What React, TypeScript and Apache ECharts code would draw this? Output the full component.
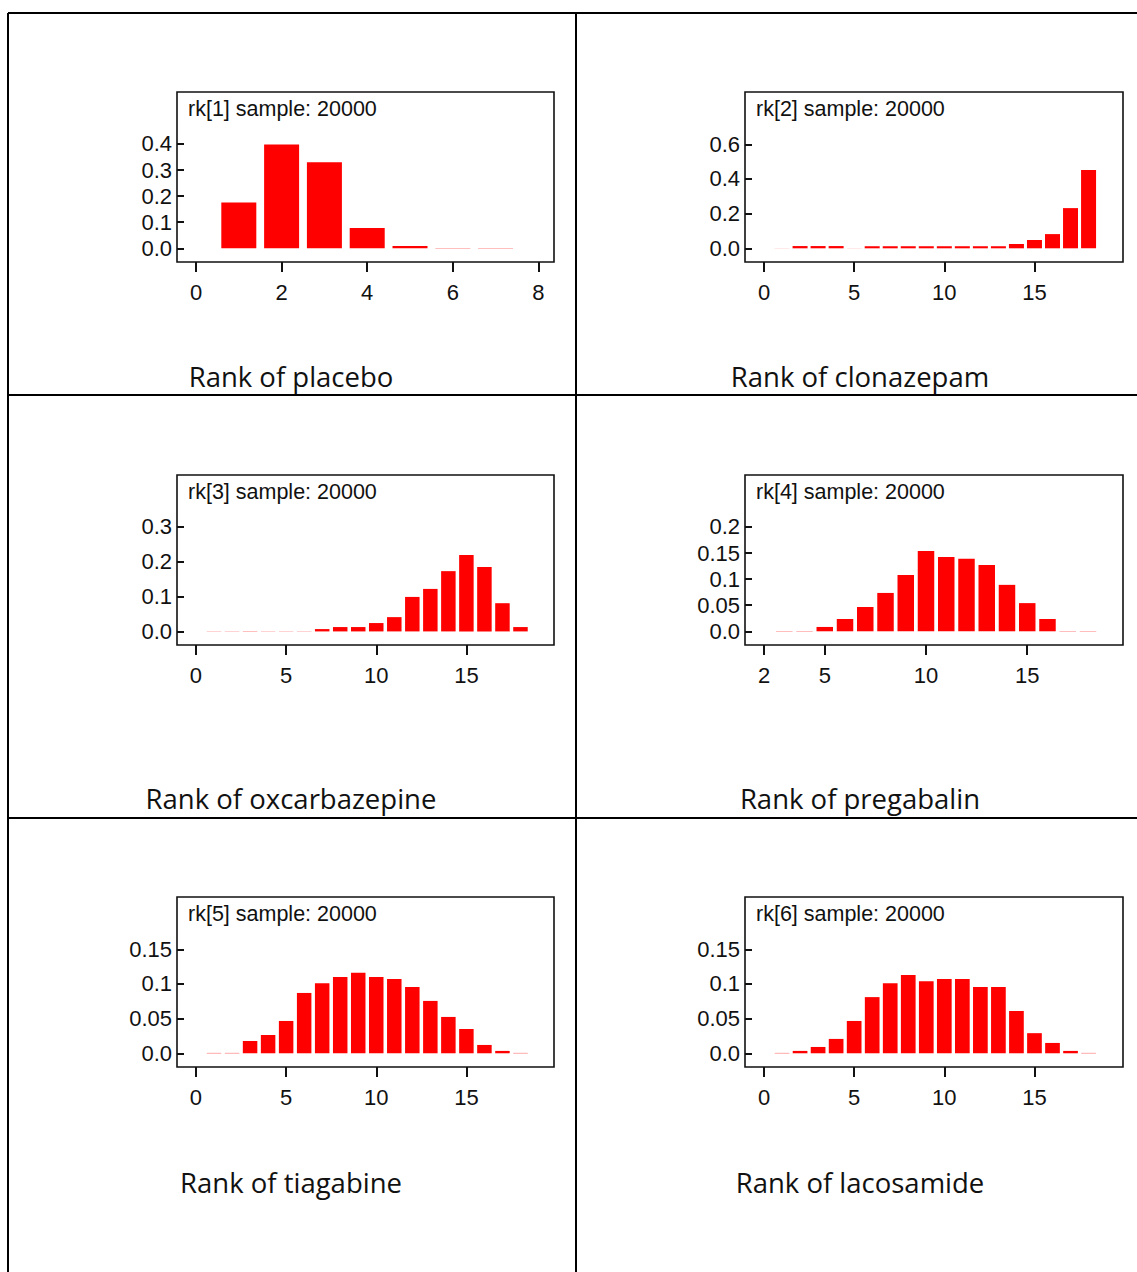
import React, { useEffect, useRef } from 'react';
import * as echarts from 'echarts';

// ---- data ----
const panelTitles = [
  'rk[1] sample: 20000',
  'rk[2] sample: 20000',
  'rk[3] sample: 20000',
  'rk[4] sample: 20000',
  'rk[5] sample: 20000',
  'rk[6] sample: 20000',
];
const captions = [
  'Rank of placebo',
  'Rank of clonazepam',
  'Rank of oxcarbazepine',
  'Rank of pregabalin',
  'Rank of tiagabine',
  'Rank of lacosamide',
];

const ranks1 = [1, 2, 3, 4, 5, 6, 7];
const probs1 = [0.176, 0.398, 0.33, 0.078, 0.009, 0.001, 0.001];

const ranks2 = [1, 2, 3, 4, 5, 6, 7, 8, 9, 10, 11, 12, 13, 14, 15, 16, 17, 18];
const probs2 = [0.0005, 0.013, 0.013, 0.013, 0.0005, 0.012, 0.012, 0.012, 0.012, 0.012, 0.012, 0.012, 0.012, 0.025, 0.048, 0.082, 0.232, 0.452];

const ranks3 = [1, 2, 3, 4, 5, 6, 7, 8, 9, 10, 11, 12, 13, 14, 15, 16, 17, 18];
const probs3 = [0.0005, 0.0005, 0.0005, 0.0005, 0.0005, 0.0005, 0.0067, 0.0125, 0.0125, 0.024, 0.041, 0.099, 0.122, 0.173, 0.219, 0.185, 0.081, 0.0125];

const ranks4 = [3, 4, 5, 6, 7, 8, 9, 10, 11, 12, 13, 14, 15, 16, 17, 18];
const probs4 = [0.0005, 0.0005, 0.0083, 0.0236, 0.0466, 0.0735, 0.108, 0.154, 0.1425, 0.139, 0.127, 0.089, 0.054, 0.0236, 0.0005, 0.0005];

const ranks5 = [1, 2, 3, 4, 5, 6, 7, 8, 9, 10, 11, 12, 13, 14, 15, 16, 17, 18];
const probs5 = [0.0005, 0.0005, 0.0178, 0.0264, 0.0466, 0.087, 0.101, 0.11, 0.116, 0.11, 0.107, 0.0957, 0.0755, 0.0524, 0.035, 0.012, 0.0034, 0.0005];

const ranks6 = [1, 2, 3, 4, 5, 6, 7, 8, 9, 10, 11, 12, 13, 14, 15, 16, 17, 18];
const probs6 = [0.0005, 0.0034, 0.0091, 0.0207, 0.0466, 0.081, 0.101, 0.113, 0.104, 0.107, 0.107, 0.0957, 0.0957, 0.061, 0.029, 0.0149, 0.0034, 0.0005];

const xTicksA = [0, 2, 4, 6, 8];
const xTicksB = [0, 5, 10, 15];
const xTicksC = [2, 5, 10, 15];

const yTicks1 = [0, 0.1, 0.2, 0.3, 0.4];
const yTicks2 = [0, 0.2, 0.4, 0.6];
const yTicks3 = [0, 0.1, 0.2, 0.3];
const yTicks4 = [0, 0.05, 0.1, 0.15, 0.2];
const yTicks5 = [0, 0.05, 0.1, 0.15];

// ---- layout (positions / styles) ----
const panels = [
  { ranks: ranks1, probs: probs1, xTicks: xTicksA, yTicks: yTicks1, xr: [-0.444, 8.364], yr: [-0.0525, 0.599], left: 177, top: 92, width: 377, barW: 35 },
  { ranks: ranks2, probs: probs2, xTicks: xTicksB, yTicks: yTicks2, xr: [-1.054, 19.91], yr: [-0.079, 0.902], left: 745, top: 92, width: 378, barW: 15 },
  { ranks: ranks3, probs: probs3, xTicks: xTicksB, yTicks: yTicks3, xr: [-1.054, 19.86], yr: [-0.039, 0.449], left: 177, top: 475, width: 377, barW: 14.5 },
  { ranks: ranks4, probs: probs4, xTicks: xTicksC, yTicks: yTicks4, xr: [1.06, 19.73], yr: [-0.0263, 0.2996], left: 745, top: 475, width: 378, barW: 16.5 },
  { ranks: ranks5, probs: probs5, xTicks: xTicksB, yTicks: yTicks5, xr: [-1.054, 19.86], yr: [-0.0198, 0.2254], left: 177, top: 897, width: 377, barW: 14.5 },
  { ranks: ranks6, probs: probs6, xTicks: xTicksB, yTicks: yTicks5, xr: [-1.054, 19.91], yr: [-0.0198, 0.2254], left: 745, top: 897, width: 378, barW: 14.7 },
];
const captionPos = [
  [291, 377], [860, 377], [291, 799], [860, 799], [291, 1183], [860, 1183],
];

const PLOT_FONT = '"Liberation Sans", Arial, sans-serif';
const CAPTION_FONT = '"Open Sans", sans-serif';
const INK = '#111111';

function fmtY(v: number) {
  if (Math.abs(v) < 1e-9) return '0.0';
  return String(+v.toFixed(3));
}

export default function App() {
  const ref = useRef<HTMLDivElement>(null);
  useEffect(() => {
    document.body.style.margin = '0';
    const chart = echarts.init(ref.current!, undefined, { renderer: 'svg' });
    const grid: any[] = [];
    const xAxis: any[] = [];
    const yAxis: any[] = [];
    const series: any[] = [];
    const graphic: any[] = [];

    panels.forEach((p, i) => {
      grid.push({
        left: p.left, top: p.top, width: p.width, height: 170,
        show: true, borderColor: INK, borderWidth: 1.6, backgroundColor: 'transparent',
      });
      xAxis.push({
        type: 'value', gridIndex: i, min: p.xr[0], max: p.xr[1], position: 'bottom',
        axisLine: { show: false, onZero: false },
        splitLine: { show: false },
        axisTick: { show: true, inside: false, length: 10, lineStyle: { color: INK, width: 2 }, customValues: p.xTicks },
        axisLabel: { show: true, margin: 19, color: INK, fontSize: 22, fontFamily: PLOT_FONT, customValues: p.xTicks, formatter: (v: number) => String(v) },
      });
      yAxis.push({
        type: 'value', gridIndex: i, min: p.yr[0], max: p.yr[1], position: 'left',
        axisLine: { show: false, onZero: false },
        splitLine: { show: false },
        axisTick: { show: true, inside: true, length: 7, lineStyle: { color: INK, width: 2 }, customValues: p.yTicks },
        axisLabel: { show: true, margin: 5, padding: [3, 0, 0, 0], color: INK, fontSize: 22, fontFamily: PLOT_FONT, customValues: p.yTicks, formatter: (v: number) => fmtY(v) },
      });
      series.push({
        type: 'bar', xAxisIndex: i, yAxisIndex: i,
        data: p.ranks.map((r, k) => [r, p.probs[k]]),
        barWidth: p.barW,
        itemStyle: { color: '#ff0000' },
        silent: true,
      });
      graphic.push({
        type: 'text',
        style: {
          text: panelTitles[i], x: p.left + 11, y: p.top + 17,
          fill: INK, fontSize: 21.5, fontFamily: PLOT_FONT,
          align: 'left', verticalAlign: 'middle',
        },
      });
      graphic.push({
        type: 'text',
        style: {
          text: captions[i], x: captionPos[i][0], y: captionPos[i][1] - 1,
          fill: INK, fontSize: 27.5, fontFamily: CAPTION_FONT,
          align: 'center', verticalAlign: 'middle',
        },
      });
    });

    const lineStyle = { stroke: '#000', lineWidth: 2 };
    const segs = [
      [8, 13, 1137, 13],
      [8, 395, 1137, 395],
      [8, 818, 1137, 818],
      [8, 13, 8, 1272],
      [576, 13, 576, 1272],
    ];
    segs.forEach((s) => {
      graphic.push({ type: 'line', shape: { x1: s[0], y1: s[1], x2: s[2], y2: s[3] }, style: lineStyle });
    });

    chart.setOption({
      animation: false,
      backgroundColor: '#ffffff',
      grid, xAxis, yAxis, series, graphic,
    });
    return () => chart.dispose();
  }, []);
  return <div ref={ref} style={{ position: 'absolute', left: 0, top: 0, width: 1137, height: 1272 }} />;
}
